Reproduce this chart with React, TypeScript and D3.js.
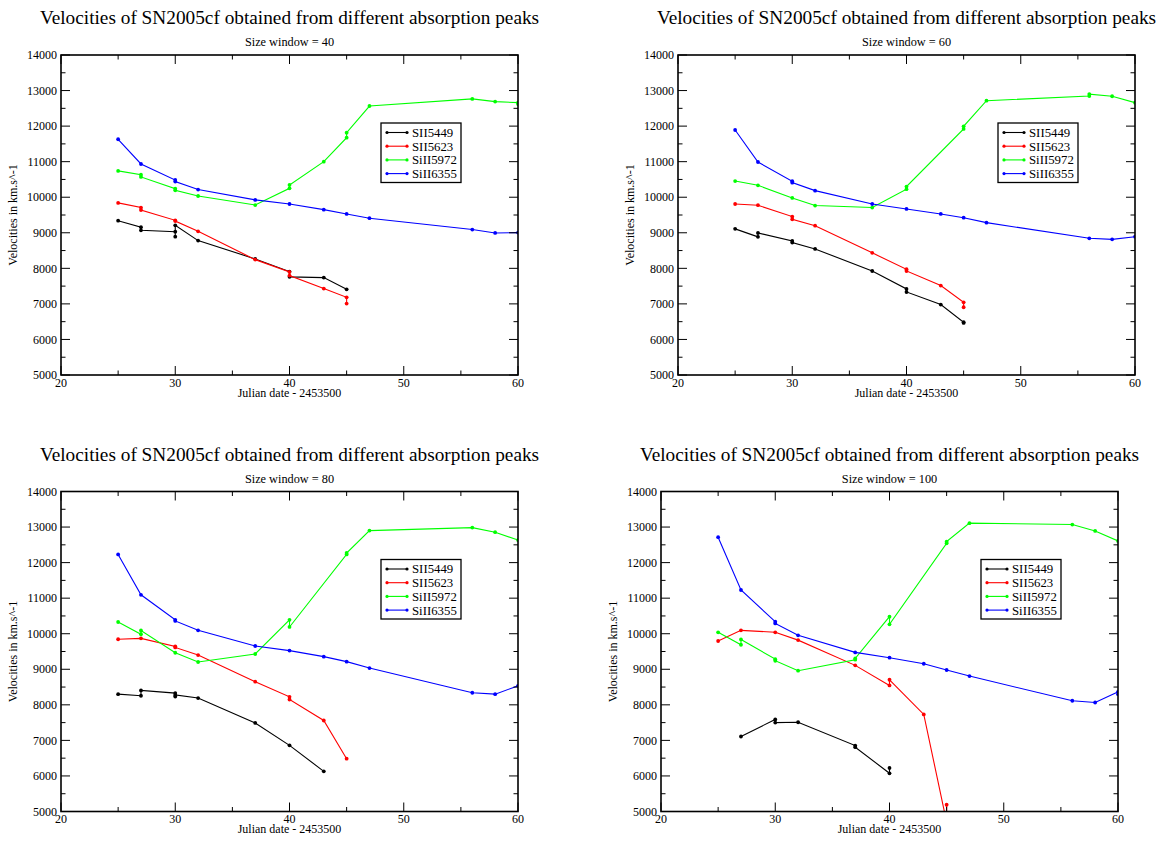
import React from "react";
import * as d3 from "d3";

type Pt = [number, number];

// ---------- data: Size window = 40 ----------
const w40_SII5449: Pt[] = [[25, 9340], [27, 9155], [27, 9070], [30, 9030], [30, 8890], [30, 9210], [32, 8780], [37, 8265], [40, 7910], [40, 7760], [43, 7740], [45, 7410]];
const w40_SII5623: Pt[] = [[25, 9840], [27, 9710], [27, 9640], [30, 9350], [30, 9330], [32, 9040], [37, 8245], [40, 7900], [40, 7795], [43, 7430], [45, 7185], [45, 7010]];
const w40_SiII5972: Pt[] = [[25, 10740], [27, 10635], [27, 10570], [30, 10240], [30, 10195], [32, 10035], [37, 9780], [40, 10250], [40, 10345], [43, 11000], [45, 11675], [45, 11815], [47, 12565], [56, 12765], [58, 12690], [60, 12660], [60, 12620]];
const w40_SiII6355: Pt[] = [[25, 11630], [27, 10935], [30, 10485], [30, 10440], [32, 10215], [37, 9925], [40, 9810], [43, 9650], [45, 9530], [47, 9410], [56, 9090], [58, 8995], [60, 9005]];

// ---------- data: Size window = 60 ----------
const w60_SII5449: Pt[] = [[25, 9110], [27, 8885], [27, 8995], [30, 8770], [30, 8725], [32, 8545], [37, 7925], [40, 7420], [40, 7335], [43, 6980], [45, 6485], [45, 6465]];
const w60_SII5623: Pt[] = [[25, 9810], [27, 9775], [30, 9455], [30, 9380], [32, 9200], [37, 8435], [40, 7975], [40, 7925], [43, 7515], [45, 7045], [45, 6905]];
const w60_SiII5972: Pt[] = [[25, 10455], [27, 10335], [30, 9980], [32, 9765], [37, 9710], [40, 10225], [40, 10300], [45, 11920], [45, 11995], [47, 12715], [56, 12845], [56, 12900], [58, 12840], [60, 12660]];
const w60_SiII6355: Pt[] = [[25, 11890], [27, 10990], [30, 10450], [30, 10410], [32, 10185], [37, 9810], [40, 9670], [43, 9530], [45, 9425], [47, 9285], [56, 8845], [58, 8815], [60, 8890]];

// ---------- data: Size window = 80 ----------
const w80_SII5449: Pt[] = [[25, 8300], [27, 8255], [27, 8405], [30, 8330], [30, 8235], [30, 8280], [32, 8190], [37, 7490], [40, 6860], [43, 6130]];
const w80_SII5623: Pt[] = [[25, 9845], [27, 9870], [30, 9645], [30, 9615], [32, 9400], [37, 8650], [40, 8225], [40, 8150], [43, 7560], [45, 6485]];
const w80_SiII5972: Pt[] = [[25, 10330], [27, 9985], [27, 10090], [30, 9465], [32, 9205], [37, 9430], [40, 10390], [40, 10190], [45, 12230], [45, 12270], [47, 12900], [56, 12985], [58, 12855], [60, 12635]];
const w80_SiII6355: Pt[] = [[25, 12230], [27, 11095], [30, 10390], [30, 10360], [32, 10095], [37, 9655], [40, 9525], [43, 9355], [45, 9215], [47, 9035], [56, 8340], [58, 8300], [60, 8535]];

// ---------- data: Size window = 100 ----------
const w100_SII5449: Pt[] = [[27, 7110], [30, 7590], [30, 7500], [32, 7510], [37, 6855], [37, 6810], [40, 6075], [40, 6225]];
const w100_SII5623: Pt[] = [[25, 9795], [27, 10095], [30, 10040], [32, 9820], [37, 9110], [40, 8545], [40, 8705], [43, 7730], [45, 4700], [45, 5190]];
const w100_SiII5972: Pt[] = [[25, 10040], [27, 9690], [27, 9840], [30, 9285], [30, 9240], [32, 8960], [37, 9270], [37, 9305], [40, 10480], [40, 10265], [45, 12545], [45, 12590], [47, 13110], [56, 13070], [58, 12890], [60, 12610]];
const w100_SiII6355: Pt[] = [[25, 12715], [27, 11230], [30, 10340], [30, 10290], [32, 9955], [37, 9475], [40, 9325], [43, 9155], [45, 8980], [47, 8810], [56, 8115], [58, 8065], [60, 8365], [60, 8300]];

const seriesNames = ["SII5449", "SII5623", "SiII5972", "SiII6355"];
const seriesColors = ["#000000", "#ff0000", "#00ff00", "#0000ff"];
const windowSizes = [40, 60, 80, 100];
const xTicks = [20, 30, 40, 50, 60];
const yTicks = [5000, 6000, 7000, 8000, 9000, 10000, 11000, 12000, 13000, 14000];
const titleText = "Velocities of SN2005cf obtained from different absorption peaks";
const xLabel = "Julian date - 2453500";
const yLabel = "Velocities in km.s^-1";

const panelData: Pt[][][] = [
  [w40_SII5449, w40_SII5623, w40_SiII5972, w40_SiII6355],
  [w60_SII5449, w60_SII5623, w60_SiII5972, w60_SiII6355],
  [w80_SII5449, w80_SII5623, w80_SiII5972, w80_SiII6355],
  [w100_SII5449, w100_SII5623, w100_SiII5972, w100_SiII6355],
];

const panelPos = [
  { left: 61, top: 55 },
  { left: 678, top: 55 },
  { left: 61, top: 491.5 },
  { left: 661, top: 491.5 },
];

const PW = 457;
const PH = 320;
const FONT = "'Liberation Serif', 'Times New Roman', serif";

function Panel({ idx }: { idx: number }) {
  const { left, top } = panelPos[idx];
  const x = d3.scaleLinear().domain([20, 60]).range([0, PW]);
  const y = d3.scaleLinear().domain([5000, 14000]).range([PH, 0]);
  const line = d3.line<Pt>().x((d) => x(d[0])).y((d) => y(d[1]));
  const xMinor = d3.range(25, 60, 10);
  const yMinor = d3.range(5500, 14000, 1000);
  const clipId = `clip${idx}`;
  const lx = 320, ly = 68, lw = 80, lh = 59.5;
  return (
    <g transform={`translate(${left},${top})`}>
      <defs>
        <clipPath id={clipId}>
          <rect x={0} y={0} width={PW} height={PH} />
        </clipPath>
      </defs>
      <text x={PW / 2} y={-31} textAnchor="middle" fontSize={19.3} fontFamily={FONT}>{titleText}</text>
      <text x={PW / 2} y={-9} textAnchor="middle" fontSize={12.3} fontFamily={FONT}>{`Size window = ${windowSizes[idx]}`}</text>
      <g clipPath={`url(#${clipId})`}>
        {panelData[idx].map((s, i) => (
          <g key={i}>
            <path d={line(s) || ""} fill="none" stroke={seriesColors[i]} strokeWidth={1.1} />
            {s.map((p, j) => (
              <circle key={j} cx={x(p[0])} cy={y(p[1])} r={1.9} fill={seriesColors[i]} />
            ))}
          </g>
        ))}
      </g>
      {xTicks.map((t) => (
        <g key={"xt" + t}>
          <line x1={x(t)} x2={x(t)} y1={PH} y2={PH - 9} stroke="#000" strokeWidth={1} />
          <line x1={x(t)} x2={x(t)} y1={0} y2={9} stroke="#000" strokeWidth={1} />
          <text x={x(t)} y={PH + 11.5} textAnchor="middle" fontSize={12} fontFamily={FONT}>{t}</text>
        </g>
      ))}
      {xMinor.map((t) => (
        <g key={"xm" + t}>
          <line x1={x(t)} x2={x(t)} y1={PH} y2={PH - 4.5} stroke="#000" strokeWidth={1} />
          <line x1={x(t)} x2={x(t)} y1={0} y2={4.5} stroke="#000" strokeWidth={1} />
        </g>
      ))}
      {yTicks.map((t) => (
        <g key={"yt" + t}>
          <line x1={0} x2={9} y1={y(t)} y2={y(t)} stroke="#000" strokeWidth={1} />
          <line x1={PW} x2={PW - 9} y1={y(t)} y2={y(t)} stroke="#000" strokeWidth={1} />
          <text x={-4} y={y(t)} dy="0.35em" textAnchor="end" fontSize={12} fontFamily={FONT}>{t}</text>
        </g>
      ))}
      {yMinor.map((t) => (
        <g key={"ym" + t}>
          <line x1={0} x2={4.5} y1={y(t)} y2={y(t)} stroke="#000" strokeWidth={1} />
          <line x1={PW} x2={PW - 4.5} y1={y(t)} y2={y(t)} stroke="#000" strokeWidth={1} />
        </g>
      ))}
      <rect x={0} y={0} width={PW} height={PH} fill="none" stroke="#000" strokeWidth={1.6} />
      <text x={PW / 2} y={PH + 21.5} textAnchor="middle" fontSize={12} fontFamily={FONT}>{xLabel}</text>
      <text transform={`translate(${-44},${PH / 2}) rotate(-90)`} textAnchor="middle" fontSize={12} fontFamily={FONT}>{yLabel}</text>
      <rect x={lx} y={ly} width={lw} height={lh} fill="#fff" stroke="#000" strokeWidth={1.3} />
      {seriesNames.map((n, i) => {
        const yy = ly + 9.5 + i * 13.7;
        return (
          <g key={n}>
            <line x1={lx + 6} x2={lx + 26} y1={yy} y2={yy} stroke={seriesColors[i]} strokeWidth={1.1} />
            <circle cx={lx + 6} cy={yy} r={1.6} fill={seriesColors[i]} />
            <circle cx={lx + 26} cy={yy} r={1.6} fill={seriesColors[i]} />
            <text x={lx + 31} y={yy} dy="0.35em" fontSize={12.8} fontFamily={FONT}>{n}</text>
          </g>
        );
      })}
    </g>
  );
}

export default function App() {
  return (
    <svg width={1163} height={843} style={{ position: "absolute", left: 0, top: 0, background: "#fff" }}>
      <rect x={0} y={0} width={1163} height={843} fill="#fff" />
      {[0, 1, 2, 3].map((i) => (
        <Panel key={i} idx={i} />
      ))}
    </svg>
  );
}
